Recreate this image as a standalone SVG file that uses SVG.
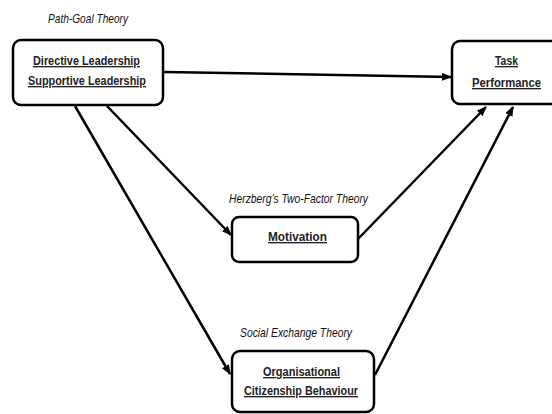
<svg xmlns="http://www.w3.org/2000/svg" width="552" height="414" viewBox="0 0 552 414">
<style>
.box{fill:#fff;stroke:#000;stroke-width:2.5}
.lbl{font-family:"Liberation Sans",Arial,sans-serif;font-weight:bold;font-size:13.5px;text-decoration:underline;fill:#222}
.th{font-family:"Liberation Sans",Arial,sans-serif;font-style:italic;font-size:13px;fill:#111}
.edge{stroke:#000;stroke-width:2.5;fill:none;marker-end:url(#ah)}
</style>
<defs>
<marker id="ah" markerUnits="userSpaceOnUse" markerWidth="10" markerHeight="8" refX="9" refY="4" orient="auto">
<path d="M0,0 L10,4 L0,8 Z" fill="#000"/>
</marker>
</defs>
<rect width="552" height="414" fill="#fff"/>
<g id="connectors">
<path class="edge" d="M164,72 L451,77"/>
<path class="edge" d="M107,106 L231,235"/>
<path class="edge" d="M75,106 L230,374"/>
<path class="edge" d="M358,239 L486,107"/>
<path class="edge" d="M375,375 L513,107"/>
</g>
<g id="leadership">
<text class="th" x="48" y="23" textLength="80" lengthAdjust="spacingAndGlyphs">Path-Goal Theory</text>
<rect class="box" x="13" y="40" width="150" height="65" rx="8"/>
<text class="lbl" x="33" y="65" textLength="107" lengthAdjust="spacingAndGlyphs">Directive Leadership</text>
<text class="lbl" x="28" y="85" textLength="118" lengthAdjust="spacingAndGlyphs">Supportive Leadership</text>
</g>
<g id="task">
<rect class="box" x="452" y="41" width="110" height="63" rx="8"/>
<text class="lbl" x="495" y="65" textLength="23" lengthAdjust="spacingAndGlyphs">Task</text>
<text class="lbl" x="472" y="87" textLength="69" lengthAdjust="spacingAndGlyphs">Performance</text>
</g>
<g id="motivation">
<text class="th" x="229" y="203" textLength="139" lengthAdjust="spacingAndGlyphs">Herzberg’s Two-Factor Theory</text>
<rect class="box" x="232" y="217" width="126" height="45" rx="7"/>
<text class="lbl" x="268" y="241" textLength="59" lengthAdjust="spacingAndGlyphs">Motivation</text>
</g>
<g id="ocb">
<text class="th" x="240" y="337" textLength="112" lengthAdjust="spacingAndGlyphs">Social Exchange Theory</text>
<rect class="box" x="232" y="351" width="142" height="61" rx="8"/>
<text class="lbl" x="263" y="376" textLength="77" lengthAdjust="spacingAndGlyphs">Organisational</text>
<text class="lbl" x="244" y="395" textLength="114" lengthAdjust="spacingAndGlyphs">Citizenship Behaviour</text>
</g>
</svg>
